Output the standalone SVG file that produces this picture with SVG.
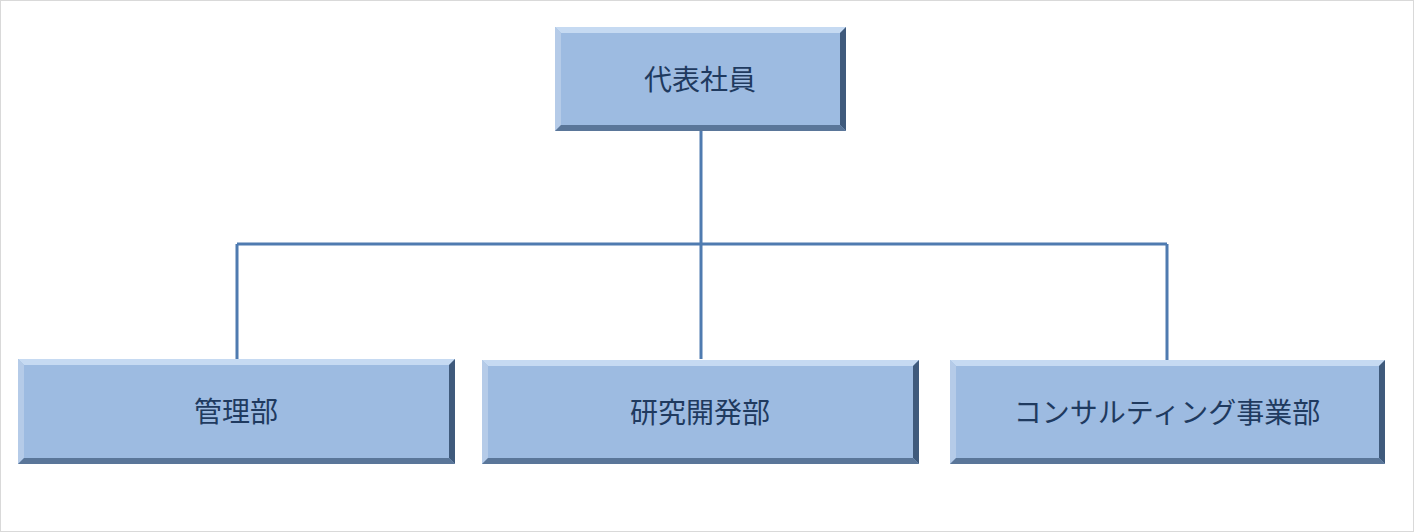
<svg xmlns="http://www.w3.org/2000/svg" width="1414" height="532" viewBox="0 0 1414 532">
<style>
.f{fill:#9dbbe1}.t{fill:#c6daf2}.l{fill:#b5cbe8}.r{fill:#3f5a7c}.b{fill:#5a7699}
.lbl{font-family:"Noto Sans CJK JP",sans-serif;font-size:28px;fill:#1f3a5f;text-anchor:middle;dominant-baseline:central}
.c{stroke:#4f7bb0;stroke-width:3;fill:none}
</style>
<rect x="0.5" y="0.5" width="1413" height="531" fill="#fff" stroke="#d9d9d9"/>
<g id="connectors">
<path class="c" d="M701 131V359M237 244H1167M237 244V359M1167 244V360"/>
</g>
<g id="n0">
<rect class="f" x="555" y="27" width="291" height="104"/>
<polygon class="t" points="555,27 846,27 840,33 561,33"/>
<polygon class="l" points="555,27 561,33 561,125 555,131"/>
<polygon class="r" points="846,27 846,131 840,125 840,33"/>
<polygon class="b" points="555,131 846,131 840,125 561,125"/>
<text class="lbl" x="700" y="78">代表社員</text>
</g>
<g id="n1">
<rect class="f" x="18" y="359" width="437" height="105"/>
<polygon class="t" points="18,359 455,359 449,365 24,365"/>
<polygon class="l" points="18,359 24,365 24,458 18,464"/>
<polygon class="r" points="455,359 455,464 449,458 449,365"/>
<polygon class="b" points="18,464 455,464 449,458 24,458"/>
<text class="lbl" x="236" y="410">管理部</text>
</g>
<g id="n2">
<rect class="f" x="482" y="360" width="437" height="104"/>
<polygon class="t" points="482,360 919,360 913,366 488,366"/>
<polygon class="l" points="482,360 488,366 488,458 482,464"/>
<polygon class="r" points="919,360 919,464 913,458 913,366"/>
<polygon class="b" points="482,464 919,464 913,458 488,458"/>
<text class="lbl" x="700" y="411">研究開発部</text>
</g>
<g id="n3">
<rect class="f" x="950" y="360" width="435" height="104"/>
<polygon class="t" points="950,360 1385,360 1379,366 956,366"/>
<polygon class="l" points="950,360 956,366 956,458 950,464"/>
<polygon class="r" points="1385,360 1385,464 1379,458 1379,366"/>
<polygon class="b" points="950,464 1385,464 1379,458 956,458"/>
<text class="lbl" x="1167" y="411">コンサルティング事業部</text>
</g>
</svg>
